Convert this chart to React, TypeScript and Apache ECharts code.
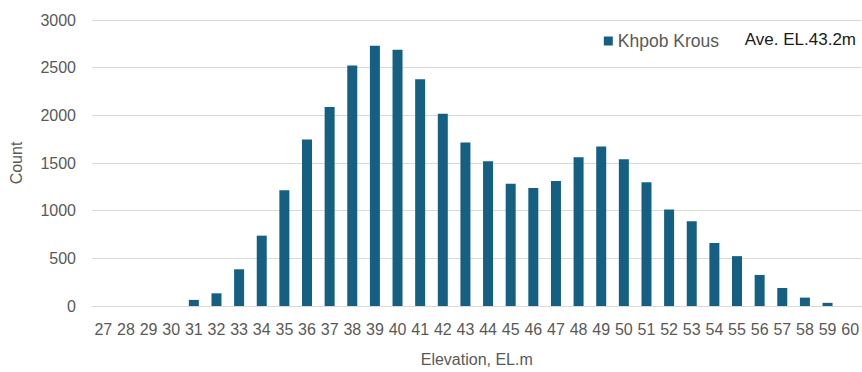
import React, { useEffect, useRef } from "react";
import * as echarts from "echarts";

const categories = ["27","28","29","30","31","32","33","34","35","36","37","38","39","40","41","42","43","44","45","46","47","48","49","50","51","52","53","54","55","56","57","58","59","60"];
const counts = [0,0,0,0,64,133,385,738,1214,1746,2088,2523,2731,2689,2378,2016,1715,1518,1283,1238,1311,1560,1673,1539,1297,1013,889,661,523,326,189,88,33,0];
const seriesName = "Khpob Krous";
const noteText = "Ave. EL.43.2m";
const yTicks = [0, 500, 1000, 1500, 2000, 2500, 3000];

export default function App() {
  const ref = useRef<HTMLDivElement>(null);
  useEffect(() => {
    if (!ref.current) return;
    const chart = echarts.init(ref.current, null, { renderer: "svg" });
    const font = "'Liberation Sans', Arial, sans-serif";
    chart.setOption({
      animation: false,
      textStyle: { fontFamily: font },
      grid: { left: 88, right: 0, top: 20, bottom: 62.5, containLabel: false },
      legend: {
        data: [seriesName],
        right: 138,
        top: 27,
        icon: "rect",
        itemWidth: 9,
        itemHeight: 9,
        itemGap: 6,
        textStyle: { fontSize: 17.5, color: "#595959", fontFamily: font },
      },
      graphic: [
        {
          type: "text",
          right: 6,
          top: 31,
          style: { text: noteText, fontSize: 17, fill: "#1a1a1a", fontFamily: font },
        },
      ],
      xAxis: {
        type: "category",
        data: categories,
        name: "Elevation, EL.m",
        nameLocation: "middle",
        nameGap: 45,
        nameTextStyle: { fontSize: 16, color: "#595959" },
        axisLine: { show: true, lineStyle: { color: "#d9d9d9" } },
        axisTick: { show: false },
        axisLabel: { interval: 0, fontSize: 16, color: "#595959", margin: 15 },
      },
      yAxis: {
        type: "value",
        min: yTicks[0],
        max: yTicks[yTicks.length - 1],
        interval: 500,
        name: "Count",
        nameLocation: "middle",
        nameGap: 68,
        nameTextStyle: { fontSize: 16, color: "#595959" },
        axisLine: { show: false },
        axisTick: { show: false },
        axisLabel: { fontSize: 16, color: "#595959", margin: 16, formatter: (v: number) => String(v) },
        splitLine: { lineStyle: { color: "#d9d9d9", width: 1 } },
      },
      series: [
        {
          name: seriesName,
          type: "bar",
          data: counts,
          barWidth: 10,
          itemStyle: { color: "#156082" },
        },
      ],
    });
    return () => chart.dispose();
  }, []);
  return <div ref={ref} style={{ width: 862, height: 372, position: "absolute", left: 0, top: 0 }} />;
}
